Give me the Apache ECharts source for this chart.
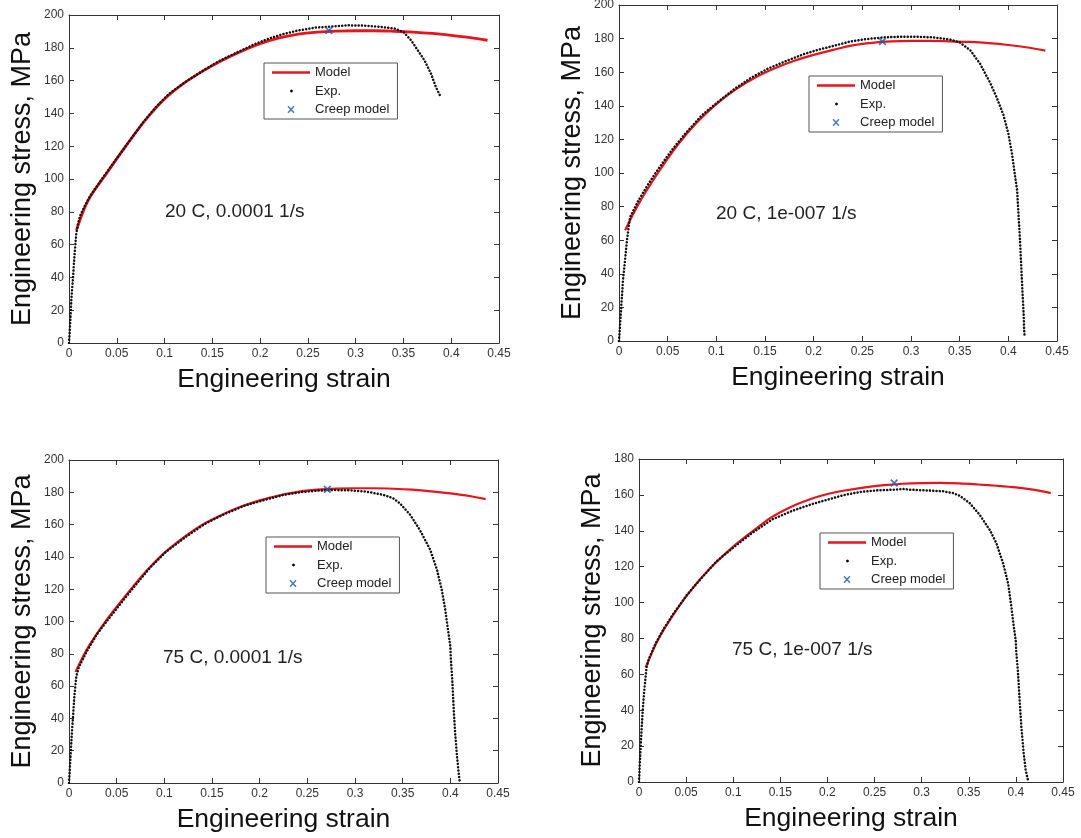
<!DOCTYPE html>
<html><head><meta charset="utf-8">
<script src="https://cdn.jsdelivr.net/npm/echarts@6.0.0/dist/echarts.min.js"></script>
<style>html,body{margin:0;padding:0;background:#fff}#c{width:1081px;height:838px}</style>
</head><body><div id="c"></div>
<script>
// ---------- data ----------
const panelLabels = ['20 C, 0.0001 1/s', '20 C, 1e-007 1/s', '75 C, 0.0001 1/s', '75 C, 1e-007 1/s'];
const yMaxes = [200, 200, 200, 180];
const xTitle = 'Engineering strain';
const yTitle = 'Engineering stress, MPa';
const seriesNames = ['Model', 'Exp.', 'Creep model'];

const exp1 = [[0,0],[0.0014,13.8],[0.0024,26],[0.0042,40],[0.0059,54.5],[0.0076,66.7],[0.0095,73],[0.0119,78],[0.016,83],[0.0223,89.8],[0.0327,98.6],[0.043,107],[0.0534,115.3],[0.0638,123.6],[0.0776,134.5],[0.0915,144.3],[0.105,152.1],[0.1226,159.5],[0.14,166],[0.157,171.9],[0.1745,176.8],[0.195,182.4],[0.21,185.8],[0.225,188.5],[0.24,190.6],[0.258,192.3],[0.275,193],[0.292,193.7],[0.31,193.5],[0.327,192.7],[0.341,191.7],[0.35,189.6],[0.358,184.6],[0.365,178.5],[0.372,172.4],[0.379,164],[0.384,156],[0.389,150]];
const model1 = [[0.0078,68.8],[0.02,87],[0.04,104],[0.06,120.5],[0.08,136],[0.1,148.8],[0.12,158.3],[0.14,165.8],[0.16,172.3],[0.18,177.8],[0.2,182.5],[0.22,186],[0.24,188.4],[0.26,189.6],[0.28,190.2],[0.3,190.4],[0.32,190.4],[0.34,190.1],[0.36,189.6],[0.38,188.8],[0.4,187.6],[0.42,186.2],[0.438,184.6]];
const creep1 = [[0.272,190.6]];

const exp2 = [[0,0],[0.0014,12.3],[0.0027,24],[0.0041,36],[0.0062,48],[0.0082,60],[0.0102,69],[0.0114,73.8],[0.02,83.7],[0.0302,93.5],[0.0405,102.5],[0.054,113.5],[0.0679,123.3],[0.085,134.3],[0.102,142.5],[0.119,150.2],[0.136,156.8],[0.153,162.1],[0.171,166.5],[0.19,170.8],[0.205,173.4],[0.22,175.6],[0.237,178.2],[0.254,179.7],[0.2716,180.7],[0.289,181.1],[0.306,181.1],[0.323,180.7],[0.34,179.5],[0.3505,177.6],[0.361,173],[0.371,165],[0.381,154],[0.388,145],[0.395,134.5],[0.4,123.5],[0.4037,111.6],[0.407,97.7],[0.409,89.8],[0.41,80],[0.4116,64],[0.413,48],[0.4143,32],[0.4157,16.3],[0.4164,4.4],[0.417,2.4]];
const model2 = [[0.0063,65.9],[0.02,81.5],[0.04,100],[0.06,116.5],[0.08,130],[0.1,141],[0.12,149.8],[0.14,156.8],[0.16,162.3],[0.18,166.8],[0.2,170.3],[0.22,173.3],[0.24,176],[0.26,177.5],[0.28,178.3],[0.3,178.6],[0.32,178.6],[0.34,178.4],[0.36,178],[0.38,177.3],[0.4,176.2],[0.42,174.7],[0.438,172.8]];
const creep2 = [[0.2706,178.2]];

const exp3 = [[0,0],[0.0014,14.4],[0.0028,28.9],[0.0042,41],[0.0056,53.6],[0.0077,66],[0.0103,71.7],[0.019,81.8],[0.0293,92.1],[0.0396,100.2],[0.0534,110.5],[0.0672,120.7],[0.0845,133],[0.1018,143.2],[0.1225,152.4],[0.143,160.6],[0.1638,166.7],[0.1846,171.8],[0.2,174.4],[0.213,176.5],[0.225,178.4],[0.242,180],[0.26,181],[0.277,181.4],[0.295,181.2],[0.312,180.4],[0.33,178.4],[0.34,176.3],[0.347,173.2],[0.358,166],[0.368,156.7],[0.379,144.3],[0.386,132],[0.391,119.6],[0.3947,107.2],[0.398,92.8],[0.4,84.5],[0.4006,76.3],[0.402,64],[0.4034,47.4],[0.405,31],[0.407,16.5],[0.4087,6.2],[0.41,0]];
const model3 = [[0.0068,68.8],[0.02,84],[0.04,101.5],[0.06,116.5],[0.08,130.5],[0.1,142.5],[0.12,152],[0.14,160],[0.16,166],[0.18,171],[0.2,175],[0.22,178],[0.24,180.3],[0.26,181.6],[0.28,182.3],[0.3,182.5],[0.32,182.5],[0.34,182.2],[0.36,181.6],[0.38,180.6],[0.4,179.3],[0.42,177.7],[0.437,175.8]];
const creep3 = [[0.271,181.9]];

const exp4 = [[0,0],[0.001,12.1],[0.0021,23.3],[0.0035,36.3],[0.0053,49.3],[0.0067,56.8],[0.0081,64.2],[0.0106,68.7],[0.0175,77.1],[0.0263,85.5],[0.0367,93.9],[0.0507,104.2],[0.0646,112.6],[0.0821,122.9],[0.0995,130.4],[0.1204,138.9],[0.1413,146.3],[0.1622,151],[0.1832,154.8],[0.2006,157.4],[0.2167,159.8],[0.2344,161.6],[0.252,162.5],[0.2697,162.9],[0.2803,163.3],[0.2874,162.9],[0.305,162.5],[0.3227,162],[0.3333,161],[0.3404,159.5],[0.351,155.4],[0.3616,148.9],[0.3722,140.5],[0.3793,133.1],[0.3864,121.9],[0.3917,110.8],[0.3952,97.7],[0.3977,86.6],[0.3998,79.1],[0.4005,71.7],[0.4023,60.5],[0.404,45.6],[0.4058,30.7],[0.4083,15.8],[0.4104,6.5],[0.4129,0.9]];
const model4 = [[0.0071,63.9],[0.02,79],[0.04,96],[0.06,110],[0.08,121.5],[0.1,131.2],[0.12,139.5],[0.14,147.3],[0.16,153],[0.18,157.3],[0.2,160.5],[0.22,162.6],[0.24,164.2],[0.26,165.4],[0.28,166.2],[0.3,166.6],[0.32,166.7],[0.34,166.4],[0.36,165.8],[0.38,165.1],[0.4,164.2],[0.42,162.8],[0.437,161]];
const creep4 = [[0.2708,166.6]];

const expData = [exp1, exp2, exp3, exp4];
const modelData = [model1, model2, model3, model4];
const creepData = [creep1, creep2, creep3, creep4];

// ---------- layout / style ----------
const FONT = '"Liberation Sans", Arial, sans-serif';
const RED = '#e8141c';
const BLUE = '#1f5aa8';
const grids = [
  {left: 69, top: 15, width: 430, height: 328},
  {left: 619, top: 5, width: 438, height: 336},
  {left: 69, top: 460, width: 429, height: 323},
  {left: 639, top: 459, width: 424, height: 323}
];
const modelWidths = [2.8, 2.2, 2.2, 2.2];
const legendPos = [[264, 63], [809, 76], [266, 537], [820, 533]];
const annPos = [[165, 212], [716, 214], [163, 658], [732, 650]];

const MODEL_ICON = 'path://M0,5.3L38,5.3L38,7.7L0,7.7Z';
const DOT_ICON = 'path://M0,0M38,13M18,6.5L18.5,5.4L19.5,5L20.5,5.4L21,6.5L20.5,7.6L19.5,8L18.5,7.6Z';
const X_ICON = 'path://M0,0M38,13M15.5,3.7L16.5,2.7L19,5.3L21.5,2.7L22.5,3.7L20,6.5L22.5,9.3L21.5,10.3L19,7.7L16.5,10.3L15.5,9.3L18,6.5Z';
const X_SYMBOL = 'path://M0,1.6L1.6,0L5,3.4L8.4,0L10,1.6L6.6,5L10,8.4L8.4,10L5,6.6L1.6,10L0,8.4L3.4,5Z';

const axisLineStyle = {show: true, onZero: false, lineStyle: {color: '#333', width: 1}};
const tickStyle = {show: true, inside: true, length: 5, lineStyle: {color: '#333'}};

const xAxes = [], yAxes = [], series = [], legends = [], graphics = [];
grids.forEach((g, i) => {
  const common = {gridIndex: i, type: 'value', axisLine: axisLineStyle, axisTick: tickStyle, splitLine: {show: false}};
  xAxes.push(Object.assign({}, common, {
    position: 'bottom', min: 0, max: 0.45, interval: 0.05,
    axisLabel: {color: '#333', fontSize: 12, fontFamily: FONT, margin: 5, interval: 0},
    name: xTitle, nameLocation: 'middle', nameGap: 23, nameMoveOverlap: false,
    nameTextStyle: {fontSize: 26.5, color: '#111', fontFamily: FONT}
  }));
  xAxes.push(Object.assign({}, common, {
    position: 'top', min: 0, max: 0.45, interval: 0.05, axisLabel: {show: false}
  }));
  yAxes.push(Object.assign({}, common, {
    position: 'left', min: 0, max: yMaxes[i], interval: 20,
    axisLabel: {color: '#333', fontSize: 12, fontFamily: FONT, margin: 5, interval: 0},
    name: yTitle, nameLocation: 'middle', nameGap: 33, nameRotate: 90, nameMoveOverlap: false,
    nameTextStyle: {fontSize: 27, color: '#111', fontFamily: FONT}
  }));
  yAxes.push(Object.assign({}, common, {
    position: 'right', min: 0, max: yMaxes[i], interval: 20, axisLabel: {show: false}
  }));
  series.push({
    type: 'line', name: seriesNames[0], xAxisIndex: 2 * i, yAxisIndex: 2 * i,
    data: modelData[i], symbol: 'none', smooth: 0.3, z: 2,
    lineStyle: {color: RED, width: modelWidths[i]}, itemStyle: {color: RED}
  });
  series.push({
    type: 'line', name: seriesNames[1], xAxisIndex: 2 * i, yAxisIndex: 2 * i,
    data: expData[i], symbol: 'none', z: 3,
    lineStyle: {color: '#111', width: 2.5, type: [0.1, 3.2], cap: 'round'}, itemStyle: {color: '#000'}
  });
  series.push({
    type: 'scatter', name: seriesNames[2], xAxisIndex: 2 * i, yAxisIndex: 2 * i,
    data: creepData[i], symbol: X_SYMBOL, symbolSize: 8, z: 5, itemStyle: {color: BLUE}
  });
  legends.push({
    left: legendPos[i][0], top: legendPos[i][1], orient: 'vertical',
    padding: [3, 8, 3, 8], itemWidth: 38, itemHeight: 13, itemGap: 5.5,
    borderColor: '#555', borderWidth: 1, backgroundColor: '#fff', selectedMode: false,
    itemStyle: {borderWidth: 0},
    textStyle: {fontSize: 13, color: '#222', fontFamily: FONT},
    data: [{name: seriesNames[0], icon: MODEL_ICON}, {name: seriesNames[1], icon: DOT_ICON}, {name: seriesNames[2], icon: X_ICON}]
  });
  graphics.push({
    type: 'text', x: annPos[i][0], y: annPos[i][1], z: 10,
    style: {text: panelLabels[i], font: '19px ' + FONT, fill: '#222', verticalAlign: 'middle'}
  });
});

const chart = echarts.init(document.getElementById('c'), null, {renderer: 'canvas'});
chart.setOption({
  animation: false,
  backgroundColor: '#fff',
  grid: grids.map(g => Object.assign({outerBoundsMode: 'none', containLabel: false}, g)),
  xAxis: xAxes, yAxis: yAxes, series: series, legend: legends, graphic: graphics
});
</script></body></html>
